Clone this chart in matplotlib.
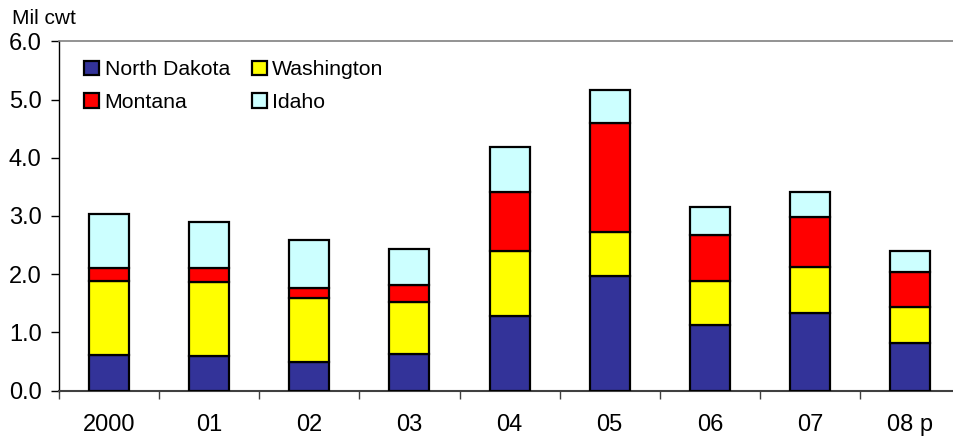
import numpy as np
import matplotlib
matplotlib.use("Agg")
import matplotlib.pyplot as plt

plt.rcParams['font.family'] = ['Liberation Sans', 'DejaVu Sans']

years = ['2000', '01', '02', '03', '04', '05', '06', '07', '08 p']
north_dakota = [0.61, 0.60, 0.49, 0.63, 1.28, 1.97, 1.12, 1.33, 0.82]
washington = [1.28, 1.27, 1.11, 0.90, 1.12, 0.75, 0.76, 0.80, 0.61]
montana = [0.21, 0.23, 0.17, 0.28, 1.01, 1.87, 0.80, 0.85, 0.60]
idaho = [0.93, 0.80, 0.81, 0.63, 0.78, 0.57, 0.47, 0.43, 0.37]

series = [('North Dakota', north_dakota, '#333399'),
          ('Washington', washington, '#FFFF00'),
          ('Montana', montana, '#FF0000'),
          ('Idaho', idaho, '#CCFFFF')]

fig = plt.figure(figsize=(9.54, 4.37), dpi=100)
ax = fig.add_axes([0.0618, 0.106, 0.9447, 0.7995])

x = np.arange(len(years))
bottom = np.zeros(len(years))
bars = {}
for name, vals, col in series:
    bars[name] = ax.bar(x, vals, width=0.4, bottom=bottom, color=col, edgecolor='black',
                        linewidth=1.6, label=name, zorder=3)
    bottom += np.array(vals)

ax.set_xlim(-0.5, len(years) - 0.5)
ax.set_ylim(0, 6)
ax.set_yticks(np.arange(0, 6.1, 1.0))
ax.set_yticklabels([f'{v:.1f}' for v in np.arange(0, 6.1, 1.0)])
ax.set_xticks(x)
ax.set_xticklabels(years)
ax.set_xticks(np.arange(-0.5, len(years), 1.0), minor=True)
ax.tick_params(axis='x', which='major', length=0, labelsize=17, pad=17)
ax.tick_params(axis='x', which='minor', length=6, width=1, color='#404040')
ax.tick_params(axis='y', length=6, width=1, labelsize=17, pad=6.5, direction='out')

ax.spines['right'].set_visible(False)
ax.spines['top'].set_color('#808080')
ax.spines['top'].set_linewidth(1.2)
ax.spines['left'].set_color('black')
ax.spines['left'].set_linewidth(1.0)
ax.spines['bottom'].set_color('#404040')
ax.spines['bottom'].set_linewidth(1.5)

fig.text(0.0126, 0.958, 'Mil cwt', fontsize=15, ha='left', va='center')

# legend filled row-wise like the original
order = ['North Dakota', 'Montana', 'Washington', 'Idaho']
leg = ax.legend([bars[n] for n in order], order, loc='upper left',
                bbox_to_anchor=(0.007, 1.0), ncol=2,
                frameon=False, fontsize=15.3, handlelength=0.7, handleheight=0.7,
                handletextpad=0.25, columnspacing=1.05, labelspacing=0.62)
for h in leg.legend_handles:
    h.set_linewidth(1.6)

fig.savefig('out.png', dpi=100)
